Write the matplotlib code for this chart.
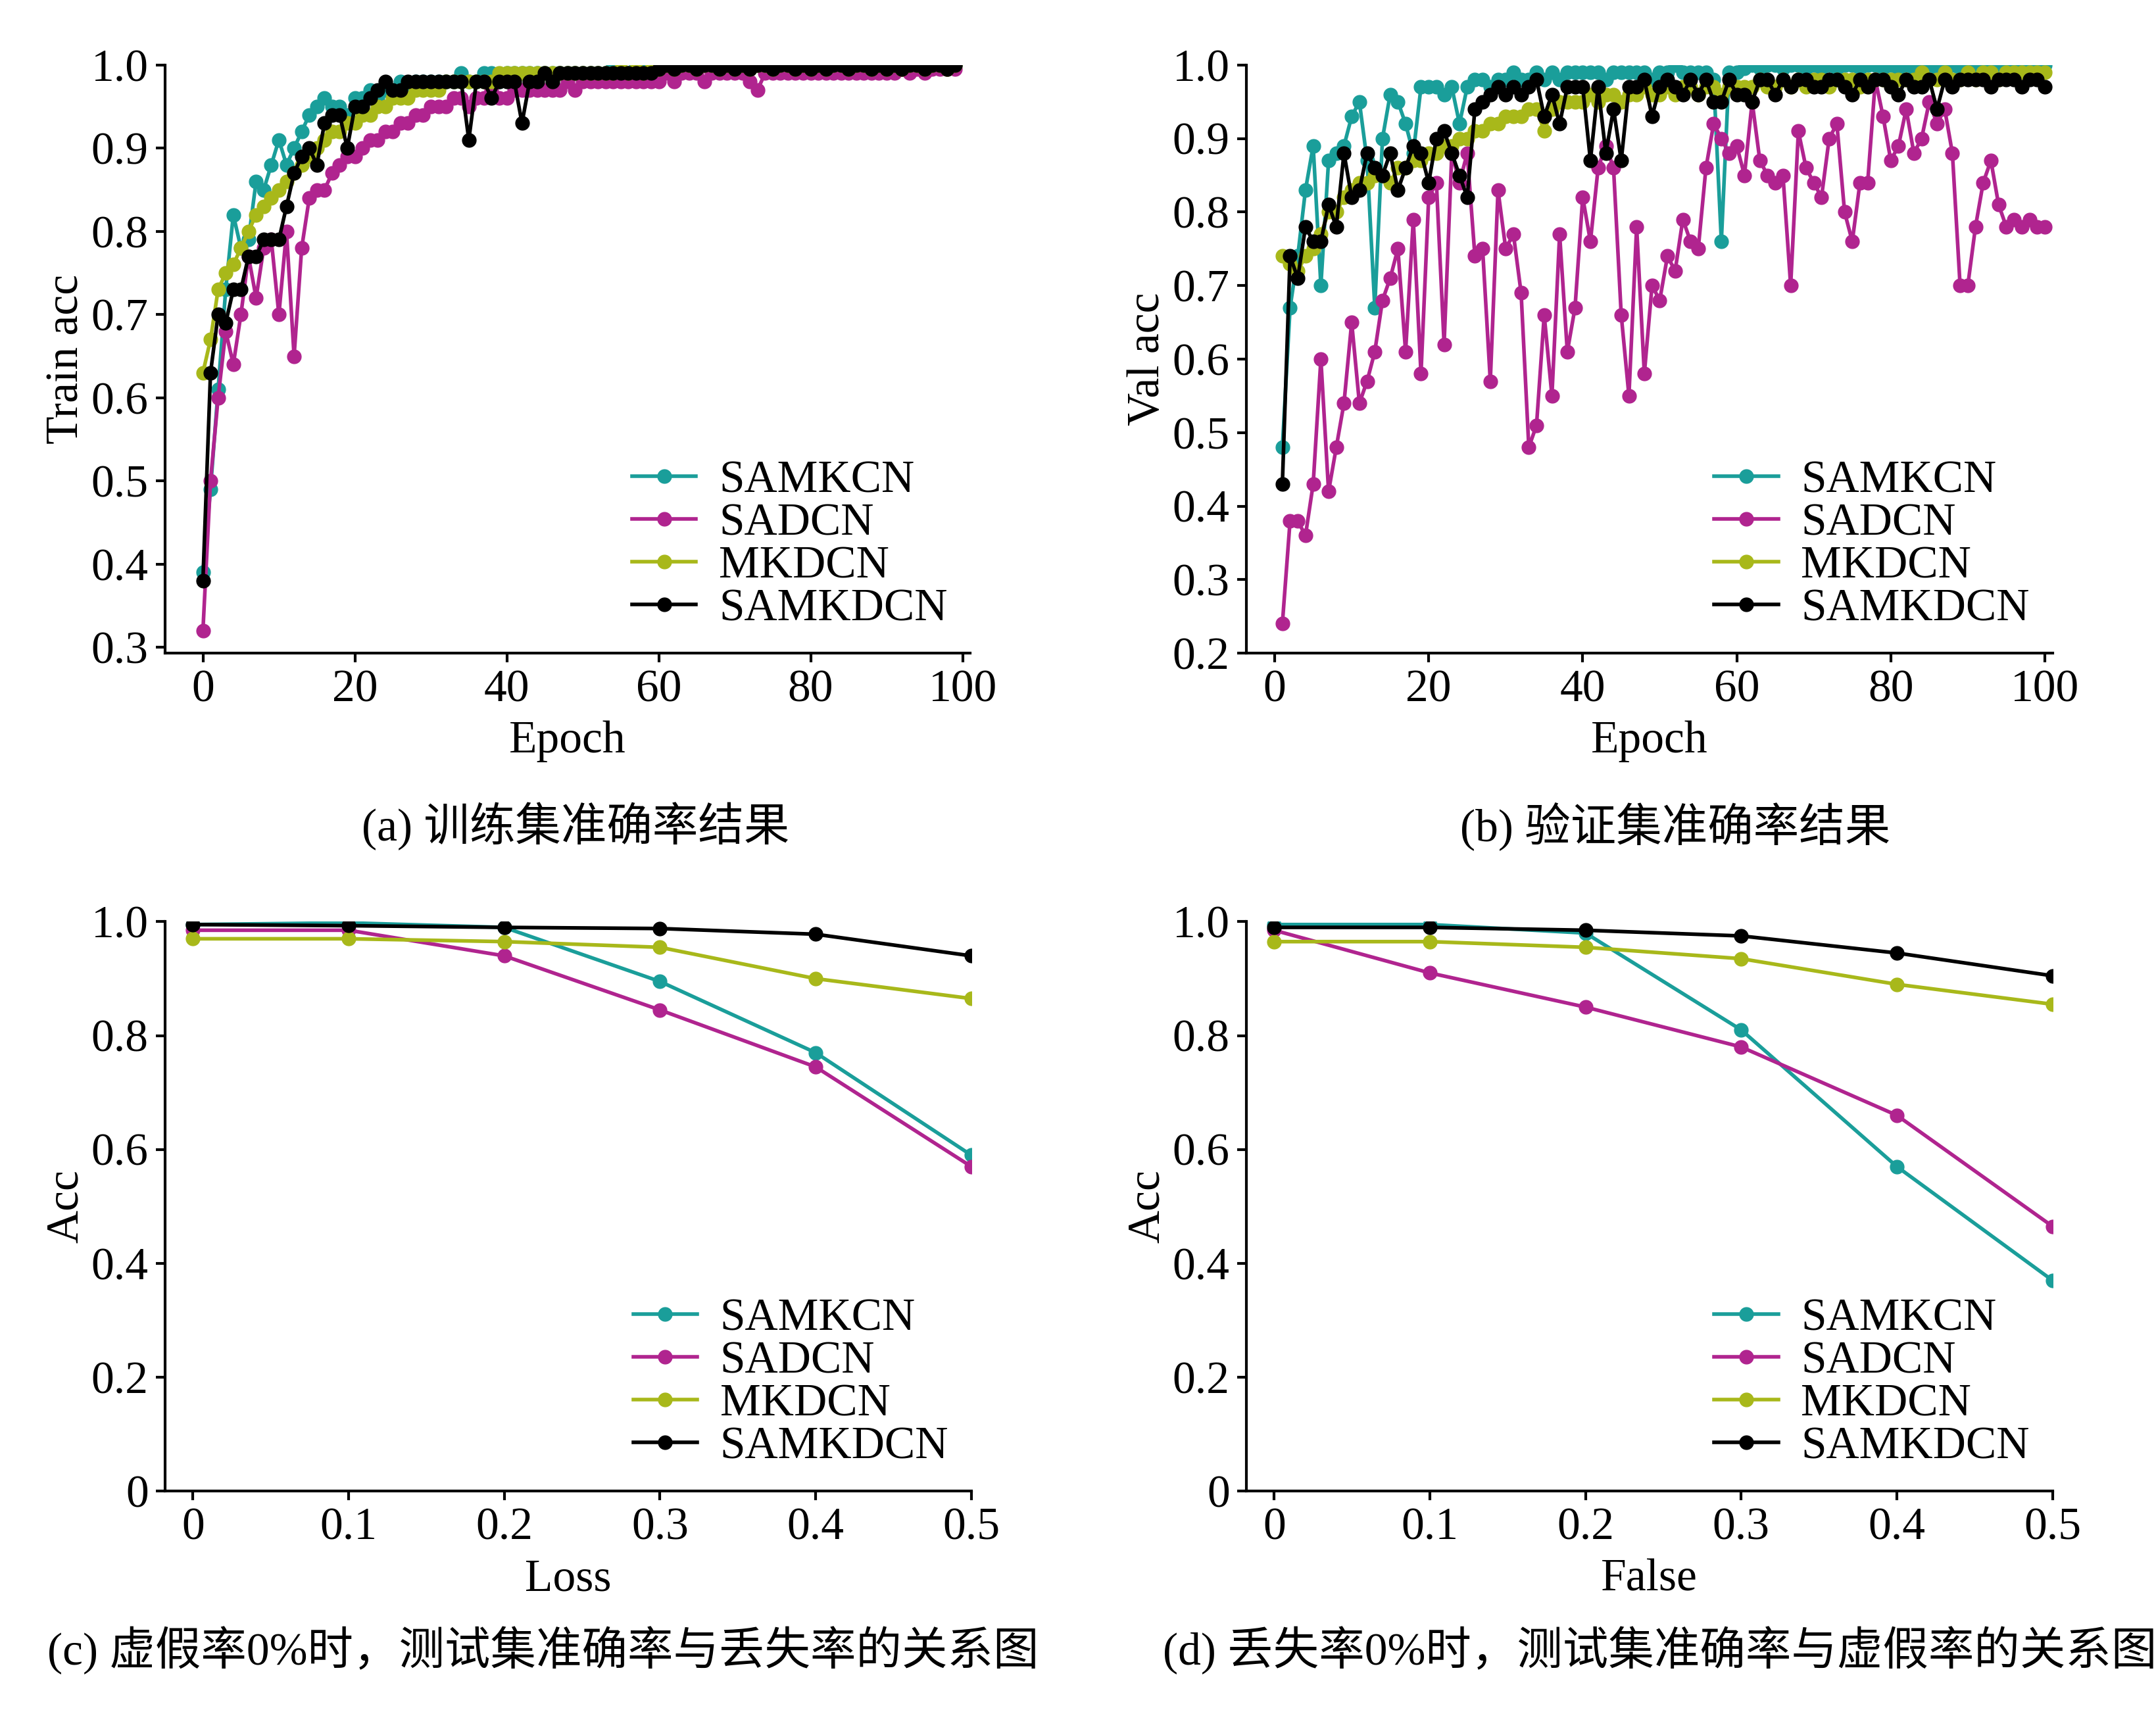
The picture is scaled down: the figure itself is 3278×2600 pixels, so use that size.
import matplotlib
matplotlib.use("Agg")
import matplotlib.pyplot as plt
import numpy as np

plt.rcParams['font.family'] = ['Liberation Serif', 'Noto Sans CJK SC']
plt.rcParams['mathtext.fontset'] = 'stix'

names = ["SAMKCN", "SADCN", "MKDCN", "SAMKDCN"]
colors = ["#1a9e9a", "#b0248f", "#a8b81a", "#000000"]

tail40 = [0.995,1.0,0.995,1.0,1.0,0.995,1.0,1.0,0.995,1.0]*4
train_samkcn = [0.39,0.49,0.61,0.73,0.82,0.78,0.79,0.86,0.85,0.88,0.91,0.88,0.90,0.92,0.94,0.95,0.96,0.95,0.95,0.94,
                0.96,0.96,0.97,0.96,0.97,0.97,0.98,0.97,0.98,0.98,0.98,0.98,0.98,0.98,0.99,0.98,0.98,0.99,0.99,0.98,
                0.99,0.99,0.99,0.99,0.99,0.99,0.99,0.99,0.99,0.99,0.99,0.99,0.99,0.99,1.00,0.99,0.99,1.00,1.00,0.99] + tail40
train_sadcn = [0.32,0.50,0.60,0.68,0.64,0.70,0.77,0.72,0.78,0.79,0.70,0.80,0.65,0.78,0.84,0.85,0.85,0.87,0.88,0.89,
               0.89,0.90,0.91,0.91,0.92,0.92,0.93,0.93,0.94,0.94,0.95,0.95,0.95,0.96,0.96,0.95,0.96,0.96,0.97,0.96,
               0.96,0.97,0.97,0.97,0.97,0.97,0.97,0.97,0.98,0.97,0.98,0.98,0.98,0.98,0.98,0.98,0.98,0.98,0.98,0.98,
               0.98,0.99,0.98,0.99,0.99,0.99,0.98,0.99,0.99,0.99,0.99,0.99,0.98,0.97,0.99,0.99,0.99,0.99,0.99,0.99,
               0.99,0.99,0.99,0.99,0.99,0.99,0.99,0.99,0.99,0.99,0.99,0.99,0.995,0.99,0.995,0.99,0.995,0.995,0.995,0.995]
train_mkdcn = [0.63,0.67,0.73,0.75,0.76,0.78,0.80,0.82,0.83,0.84,0.85,0.86,0.87,0.88,0.89,0.90,0.91,0.92,0.92,0.93,
               0.93,0.94,0.94,0.95,0.95,0.96,0.96,0.96,0.97,0.97,0.97,0.97,0.98,0.98,0.98,0.98,0.98,0.98,0.98,0.99,
               0.99,0.99,0.99,0.99,0.99,0.99,0.99,0.99,0.99,0.99,0.99,0.99,0.99,0.99,0.99,0.995,0.99,0.995,0.99,0.995] + tail40
train_samkdcn = [0.38,0.63,0.70,0.69,0.73,0.73,0.77,0.77,0.79,0.79,0.79,0.83,0.87,0.89,0.90,0.88,0.93,0.94,0.94,0.90,
                 0.95,0.95,0.96,0.97,0.98,0.97,0.97,0.98,0.98,0.98,0.98,0.98,0.98,0.98,0.98,0.91,0.98,0.98,0.96,0.98,
                 0.98,0.98,0.93,0.98,0.98,0.99,0.98,0.99,0.99,0.99,0.99,0.99,0.99,0.99,0.99,0.99,0.99,0.99,0.99,0.99] + tail40

val_samkcn = [0.48,0.67,0.74,0.83,0.89,0.70,0.87,0.88,0.89,0.93,0.95,0.87,0.67,0.90,0.96,0.95,0.92,0.88,0.97,0.97,
              0.97,0.96,0.97,0.92,0.97,0.98,0.98,0.97,0.98,0.98,0.99,0.98,0.98,0.99,0.98,0.99,0.98,0.99,0.99,0.99,
              0.99,0.99,0.98,0.99,0.99,0.99,0.99,0.99,0.98,0.99,0.99,1.00,0.99,0.99,0.99,0.99,0.98,0.76,0.99,0.99] + tail40
val_sadcn = [0.24,0.38,0.38,0.36,0.43,0.60,0.42,0.48,0.54,0.65,0.54,0.57,0.61,0.68,0.71,0.75,0.61,0.79,0.58,0.82,
             0.84,0.62,0.88,0.84,0.88,0.74,0.75,0.57,0.83,0.75,0.77,0.69,0.48,0.51,0.66,0.55,0.77,0.61,0.67,0.82,
             0.76,0.86,0.89,0.86,0.66,0.55,0.78,0.58,0.70,0.68,0.74,0.72,0.79,0.76,0.75,0.86,0.92,0.90,0.88,0.89,
             0.85,0.95,0.87,0.85,0.84,0.85,0.70,0.91,0.86,0.84,0.82,0.90,0.92,0.80,0.76,0.84,0.84,0.98,0.93,0.87,
             0.89,0.94,0.88,0.90,0.95,0.92,0.94,0.88,0.70,0.70,0.78,0.84,0.87,0.81,0.78,0.79,0.78,0.79,0.78,0.78]
val_mkdcn = [0.74,0.73,0.72,0.74,0.75,0.77,0.80,0.80,0.82,0.83,0.84,0.84,0.85,0.85,0.84,0.86,0.86,0.87,0.87,0.88,
             0.88,0.89,0.89,0.90,0.90,0.91,0.91,0.92,0.92,0.93,0.93,0.93,0.94,0.94,0.91,0.94,0.95,0.95,0.95,0.95,
             0.96,0.95,0.96,0.96,0.95,0.96,0.96,0.97,0.96,0.96,0.97,0.96,0.97,0.97,0.96,0.97,0.97,0.96,0.97,0.97,
             0.97,0.97,0.98,0.97,0.97,0.98,0.97,0.98,0.97,0.98,0.98,0.97,0.98,0.98,0.98,0.97,0.98,0.98,0.98,0.98,
             0.98,0.98,0.98,0.99,0.98,0.98,0.99,0.98,0.98,0.99,0.98,0.99,0.99,0.98,0.99,0.99,0.99,0.99,0.99,0.99]
val_samkdcn = [0.43,0.74,0.71,0.78,0.76,0.76,0.81,0.78,0.88,0.82,0.83,0.88,0.86,0.85,0.88,0.83,0.86,0.89,0.88,0.84,
               0.90,0.91,0.88,0.85,0.82,0.94,0.95,0.96,0.97,0.96,0.97,0.96,0.97,0.98,0.93,0.96,0.92,0.97,0.97,0.97,
               0.87,0.97,0.88,0.94,0.87,0.97,0.97,0.98,0.93,0.97,0.98,0.97,0.96,0.98,0.96,0.98,0.95,0.95,0.98,0.96,
               0.96,0.95,0.98,0.98,0.96,0.98,0.97,0.98,0.98,0.97,0.97,0.98,0.98,0.97,0.96,0.98,0.97,0.98,0.98,0.97,
               0.96,0.98,0.97,0.97,0.98,0.94,0.98,0.97,0.98,0.98,0.98,0.98,0.97,0.98,0.98,0.98,0.97,0.98,0.98,0.97]

rates = [0, 0.1, 0.2, 0.3, 0.4, 0.5]
loss_acc = [[0.995,0.998,0.99,0.895,0.77,0.59],
            [0.985,0.985,0.94,0.845,0.745,0.57],
            [0.97,0.97,0.965,0.955,0.90,0.865],
            [0.995,0.993,0.99,0.988,0.978,0.94]]
false_acc = [[0.995,0.995,0.98,0.81,0.57,0.37],
             [0.985,0.91,0.85,0.78,0.66,0.465],
             [0.965,0.965,0.955,0.935,0.89,0.855],
             [0.99,0.99,0.985,0.975,0.945,0.905]]

fig = plt.figure(figsize=(32.78, 26), dpi=100)
FS = 50
LW = 4
MS = 15
def style(ax):
    for s in ['top', 'right']:
        ax.spines[s].set_visible(False)
    for s in ['left', 'bottom']:
        ax.spines[s].set_linewidth(3)
    ax.tick_params(labelsize=FS, width=3, length=10, direction='out', pad=8)

def leg(ax):
    ax.legend(loc='lower right', frameon=False, fontsize=FS, handlelength=1.4,
              handletextpad=0.5, borderaxespad=0.1, labelspacing=0.02,
              bbox_to_anchor=(1.0, 0.0))

epochs = np.arange(100)
axa = fig.add_axes([0.0765, 0.618, 0.3735, 0.344])
for d, c, n in zip([train_samkcn, train_sadcn, train_mkdcn, train_samkdcn], colors, names):
    axa.plot(epochs, d, '-o', color=c, lw=LW, ms=MS, label=n)
axa.set_xlim(-5, 101); axa.set_ylim(0.293, 1.0)
axa.set_xticks([0,20,40,60,80,100]); axa.set_yticks(np.arange(0.3,1.01,0.1))
axa.set_yticklabels([f"{v:.1f}" for v in np.arange(0.3,1.01,0.1)])
axa.set_xlabel("Epoch", fontsize=FS, labelpad=10); axa.set_ylabel("Train acc", fontsize=FS)
style(axa); leg(axa)

axb = fig.add_axes([0.578, 0.618, 0.374, 0.344])
for d, c, n in zip([val_samkcn, val_sadcn, val_mkdcn, val_samkdcn], colors, names):
    axb.plot(epochs+1, d, '-o', color=c, lw=LW, ms=MS, label=n)
axb.set_xlim(-3.7, 101); axb.set_ylim(0.2, 1.0)
axb.set_xticks([0,20,40,60,80,100]); axb.set_yticks(np.arange(0.2,1.01,0.1))
axb.set_yticklabels([f"{v:.1f}" for v in np.arange(0.2,1.01,0.1)])
axb.set_xlabel("Epoch", fontsize=FS, labelpad=10); axb.set_ylabel("Val acc", fontsize=FS)
style(axb); leg(axb)

for left, data, xl in [(0.0765, loss_acc, "Loss"), (0.578, false_acc, "False")]:
    ax = fig.add_axes([left, 0.128, 0.374, 0.333])
    for d, c, n in zip(data, colors, names):
        ax.plot(rates, d, '-o', color=c, lw=LW, ms=MS, label=n)
    ax.set_xlim(-0.018, 0.5); ax.set_ylim(0, 1.0)
    ax.set_xticks(rates); ax.set_xticklabels(["0","0.1","0.2","0.3","0.4","0.5"])
    ax.set_yticks([0,0.2,0.4,0.6,0.8,1.0]); ax.set_yticklabels(["0","0.2","0.4","0.6","0.8","1.0"])
    ax.set_xlabel(xl, fontsize=FS, labelpad=10); ax.set_ylabel("Acc", fontsize=FS)
    style(ax); leg(ax)

fig.text(0.267, 0.517, "(a) 训练集准确率结果", ha='center', va='center', fontsize=FS)
fig.text(0.777, 0.517, "(b) 验证集准确率结果", ha='center', va='center', fontsize=FS)
fig.text(0.252, 0.035, "(c) 虚假率0%时，测试集准确率与丢失率的关系图", ha='center', va='center', fontsize=FS)
fig.text(0.77, 0.035, "(d) 丢失率0%时，测试集准确率与虚假率的关系图", ha='center', va='center', fontsize=FS)

fig.savefig("out.png", dpi=100)
